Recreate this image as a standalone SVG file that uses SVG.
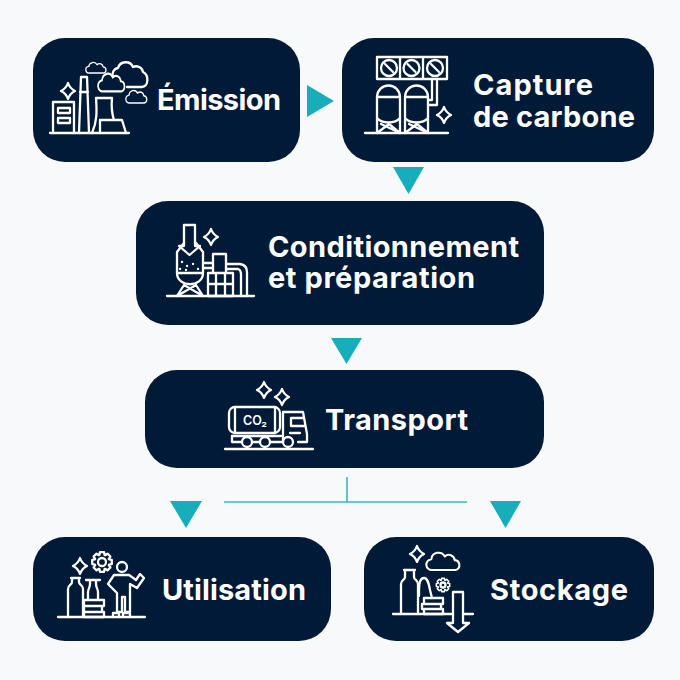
<svg xmlns="http://www.w3.org/2000/svg" width="680" height="680" viewBox="0 0 680 680">
<style>
.box{fill:#011a38}
.lbl{font-family:"Inter","Liberation Sans",sans-serif;font-weight:700;font-size:29px;fill:#fff}
.i{fill:none;stroke:#fff;stroke-width:2.300;stroke-linejoin:round;stroke-linecap:round}
.i *{vector-effect:non-scaling-stroke}
.tri{fill:#17adbb}
.ln{stroke:#3fb4c1;stroke-width:1.6;fill:none}
</style>
<defs>
<path id="sp" d="M0-8Q1.800-2.600 7-0Q1.800 2.600 0 8Q-1.800 2.600-7 0Q-1.800-2.600 0-8Z"/>
<path id="cl" d="M8 20A6 6 0 0 1 7 8A8 8 0 0 1 22 5A6.500 6.500 0 0 1 33 9A5.600 5.600 0 0 1 34 20Z"/>
<polygon id="gr" points="7.05,-2.57 9.78,-2.08 9.78,2.08 7.05,2.57 6.8,3.17 8.39,5.45 5.45,8.39 3.17,6.8 2.57,7.05 2.08,9.78 -2.08,9.78 -2.57,7.05 -3.17,6.8 -5.45,8.39 -8.39,5.45 -6.8,3.17 -7.05,2.57 -9.78,2.08 -9.78,-2.08 -7.05,-2.57 -6.8,-3.17 -8.39,-5.45 -5.45,-8.39 -3.17,-6.8 -2.57,-7.05 -2.08,-9.78 2.08,-9.78 2.57,-7.05 3.17,-6.8 5.45,-8.39 8.39,-5.45 6.8,-3.17"/>
</defs>
<rect width="680" height="680" fill="#f8f9fa"/>
<g id="connectors">
<polygon class="tri" points="307,85 334,101 307,117"/>
<polygon class="tri" points="393,167 424,167 408.500,194"/>
<polygon class="tri" points="331,338 362,338 346.500,364"/>
<polygon class="tri" points="170,501 202,501 186,528"/>
<polygon class="tri" points="490,501 521,501 505.500,528"/>
<path class="ln" d="M224 502H467M347 477V502"/>
</g>
<g id="emission">
<rect class="box" x="33" y="38" width="267" height="124" rx="32"/>
<g class="i">
<path d="M50 133H129"/>
<path d="M53 133V102H74V133M58 108H70V113H58ZM58 118H70V123H58Z"/>
<path d="M79 133L81 77H87L89 133M80 92H88"/>
<path d="M92 133C97 122 97 112 96 98H112C111 108 112 114 114 120M100 133V120H122L126 133"/>
<use href="#sp" x="68" y="91"/>
<use href="#cl" transform="translate(85 62) scale(.55)"/>
<path d="M113 76A6 6 0 0 1 118 68A8 8 0 0 1 133 67A7 7 0 0 1 143 72C149 75 149 86 142 87H127"/>
<use href="#cl" transform="translate(97 73) scale(.72 .92)"/>
<use href="#cl" transform="translate(125 90) scale(.57 .65)"/>
</g>
<text class="lbl" x="157" y="110" textLength="124">Émission</text>
</g>
<g id="capture">
<rect class="box" x="342" y="38" width="312" height="124" rx="32"/>
<g class="i">
<path d="M365 133H448"/>
<path d="M377 57H447V79H377ZM400 57V79M423 57V79"/>
<circle cx="389" cy="68" r="8"/><circle cx="411.500" cy="68" r="8"/><circle cx="435" cy="68" r="8"/>
<path d="M385 64L393 72M407.500 64L415.500 72M431 64L439 72"/>
<path d="M377 118V97A11.500 11.500 0 0 1 400 97V118C395 124 382 124 377 118ZM377 97H400M377 118V133M400 118V133M377 133L389 124L400 133M381 124L400 133"/>
<path d="M405 118V97A11.500 11.500 0 0 1 428 97V118C423 124 410 124 405 118ZM405 97H428M405 118V133M428 118V133M405 133L417 124L428 133M409 124L428 133"/>
<path d="M432 79V100H428M437 79V105H428"/>
<use href="#sp" x="444" y="115"/>
</g>
<text class="lbl" x="473" y="95" textLength="120">Capture</text>
<text class="lbl" x="473" y="127" textLength="162">de carbone</text>
</g>
<g id="conditionnement">
<rect class="box" x="136" y="201" width="408" height="124" rx="32"/>
<g class="i">
<path d="M167 296H254"/>
<path d="M184 225H195V246H200L189.500 255L179 246H184Z"/>
<path d="M184 243L177 252V273M196 243L203 252V273M177 273C177 288 203 288 203 273ZM177 273H203"/>
<path d="M177 296L184 285L203 296M203 296L196 285L177 296"/>
<path d="M182 262h.1M187 266h.1M193 264h.1M198 269h.1M186 270h.1M180 269h.1"/>
<use href="#sp" x="211" y="237"/>
<path d="M213 254H226V273H213ZM208 273H233V296H208ZM216 273V296M225 273V296M208 284H233"/>
<path d="M203 263H213M203 268H213M226 264H240Q247 265 247 272V296M226 269H238Q241 270 241 274V296"/>
</g>
<text class="lbl" x="268" y="257" textLength="251">Conditionnement</text>
<text class="lbl" x="268" y="288" textLength="207">et préparation</text>
</g>
<g id="transport">
<rect class="box" x="145" y="370" width="399" height="98" rx="32"/>
<g class="i">
<path d="M225 449H313"/>
<rect x="229" y="407" width="51" height="26" rx="6"/>
<path d="M235 407V433M275 407V433M232 436H281"/>
<path d="M283 442V412H303L307 434V442H298M291 418H303M291 418V426H305M290 433H300"/>
<path d="M232 436V442H242M252 442H260M270 442H282"/>
<circle cx="247" cy="442" r="5"/><circle cx="265" cy="442" r="5"/><circle cx="288" cy="442" r="5"/>
<use href="#sp" x="264" y="390"/>
<use href="#sp" x="282" y="397"/>
</g>
<text x="255" y="425" text-anchor="middle" style="font-family:'Inter','Liberation Sans',sans-serif;font-weight:600;font-size:12.500px;fill:#fff">CO₂</text>
<text class="lbl" x="325" y="430" textLength="143">Transport</text>
</g>
<g id="utilisation">
<rect class="box" x="33" y="537" width="298" height="104" rx="32"/>
<g class="i">
<path d="M58 617H145"/>
<path d="M68 617V589C68 585 72 585 72 582V578H79V582C79 585 83 585 83 589V617M71 578H80"/>
<path d="M88 600V592C88 589 90 588 90 584V580H96V584C96 588 98 589 98 592V600M86 580H100"/>
<path d="M84 600H104V606H84ZM84 606H102V612H84ZM84 612H104V617H84Z"/>
<use href="#sp" x="80" y="566"/>
<use href="#gr" x="102" y="562"/><circle cx="102" cy="562" r="4"/>
<circle cx="122" cy="567" r="5"/>
<path d="M114 575H129L136 580L140 574L144 578L137 588L130 584V612H125V597H122V612H117V593L108 584Z"/>
<path d="M113 617V613H119V617M123 617V613H130V617"/>
</g>
<text class="lbl" x="162" y="600" textLength="144">Utilisation</text>
</g>
<g id="stockage">
<rect class="box" x="364" y="537" width="290" height="104" rx="32"/>
<g class="i">
<path d="M393 614H452M464 614H473"/>
<path d="M401 614V584C401 580 405 580 405 577V570H414V577C414 580 418 580 418 584V614M404 570H415"/>
<path d="M419 596V590C419 585 420 578 424 578C428 578 429 585 430 590L432 598"/>
<path d="M424 598H443V604H424ZM422 604H441V609H422ZM424 609H443V614H424Z"/>
<use href="#gr" transform="translate(443 585) scale(.68)"/><circle cx="443" cy="585" r="2.500"/>
<use href="#sp" x="417" y="554"/>
<use href="#cl" transform="translate(425 552) scale(.9)"/>
<path d="M453 592H463V623H469L458 632L447 623H453Z"/>
</g>
<text class="lbl" x="490" y="600" textLength="138">Stockage</text>
</g>
</svg>
